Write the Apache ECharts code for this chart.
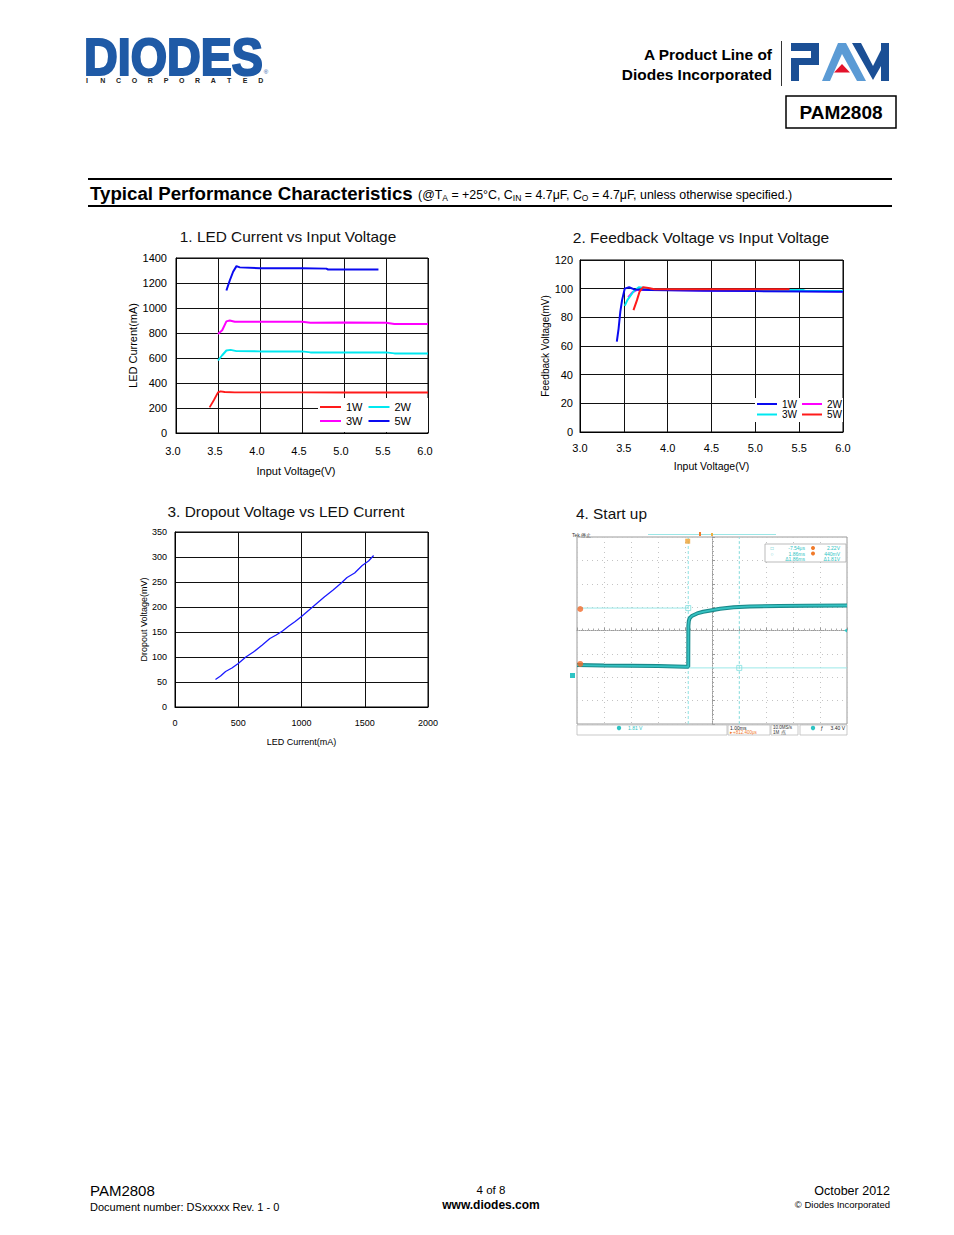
<!DOCTYPE html>
<html><head><meta charset="utf-8">
<script src="https://cdn.jsdelivr.net/npm/echarts@6/dist/echarts.min.js"></script>
<style>html,body{margin:0;padding:0;background:#fff}#page{width:954px;height:1235px}</style>
</head><body><div id="page"></div>
<script>
const FONT = '"Liberation Sans", Arial, sans-serif';
const NARROW = '"Liberation Sans Narrow", "Arial Narrow", "Liberation Sans", sans-serif';

// ---- Chart 1: LED current vs input voltage ----
const c1XLabels = ['3.0','3.5','4.0','4.5','5.0','5.5','6.0'];
const c1YLabels = ['0','200','400','600','800','1000','1200','1400'];
const led1W = [[3.40,205],[3.45,262],[3.50,325],[3.53,333],[3.58,328],[3.7,325],[4.5,325],[5.0,324],[5.5,324],[6.0,324]];
const led2W = [[3.50,580],[3.55,622],[3.60,660],[3.65,665],[3.72,655],[4.0,653],[4.5,653],[4.6,645],[5.0,645],[5.5,645],[5.6,637],[6.0,637]];
const led3W = [[3.50,792],[3.55,822],[3.60,893],[3.64,900],[3.70,890],[4.0,890],[4.5,890],[4.6,882],[5.0,884],[5.5,882],[5.6,872],[6.0,872]];
const led5W = [[3.60,1140],[3.64,1220],[3.68,1290],[3.72,1335],[3.76,1325],[4.0,1318],[4.5,1318],[4.79,1315],[4.81,1308],[5.41,1308]];

// ---- Chart 2: feedback voltage vs input voltage ----
const c2XLabels = ['3.0','3.5','4.0','4.5','5.0','5.5','6.0'];
const c2YLabels = ['0','20','40','60','80','100','120'];
const fb1W = [[3.42,63],[3.44,72],[3.46,84],[3.48,92],[3.51,100],[3.56,101],[3.62,99.5],[3.8,99],[4.4,98.5],[5.0,98.3],[5.6,98],[6.0,97.8]];
const fb2W = [[3.55,94],[3.60,97.5],[3.66,99.5],[3.75,99.3],[4.5,98.8],[5.0,98.6],[5.5,98.3],[6.0,98]];
const fb3W = [[3.51,88],[3.54,92],[3.61,98],[3.67,101],[3.74,100.5],[3.85,99.5],[4.5,99],[5.0,99],[5.55,99],[5.58,98.3],[6.0,98.3]];
const fb5W = [[3.61,85],[3.65,92],[3.68,98],[3.72,101],[3.78,100.5],[3.85,99.6],[4.5,99.6],[5.0,99.6],[5.39,99.6]];

// ---- Chart 3: dropout voltage vs LED current ----
const c3XLabels = ['0','500','1000','1500','2000'];
const c3YLabels = ['0','50','100','150','200','250','300','350'];
const dropI = [320,360,400,450,500,560,620,690,750,800,850,900,950,1000,1060,1120,1180,1250,1310,1360,1420,1480,1530,1570];
const dropV = [55,62,71,78,87,100,110,124,137,144,152,162,171,181,194,207,220,234,247,259,268,283,292,303];

// ---- Chart 4: start-up scope capture (divisions) ----
const scopeT = [-5,-4,-3,-2,-1,-0.88,-0.875,-0.86,-0.83,-0.75,-0.55,-0.33,0,0.3,0.8,1.4,2.5,3.5,5];
const scopeV = [-1.48,-1.5,-1.51,-1.52,-1.55,-1.55,0.2,0.4,0.52,0.62,0.73,0.8,0.87,0.93,0.99,1.03,1.05,1.06,1.07];
const cursorTimes = [-0.88, 1.01];
const cursorLevels = [0.96, -1.6];
const ch1Markers = [[-4.88, 0.92], [-4.88, -1.43]];
const triggerMark = [[-0.9, 3.82]];

const pairs = (a, b) => a.map((v, i) => [v, b[i]]);

function T(x, y, text, font, fill, align, extra) {
  return Object.assign({
    type: 'text', x: x, y: y, z: 10,
    style: { text: text, font: font, fill: fill || '#000',
      textAlign: align || 'left', align: align || 'left',
      textVerticalAlign: 'middle', verticalAlign: 'middle' }
  }, extra || {});
}

const axisBase = (gi) => ({
  gridIndex: gi, type: 'value',
  axisLine: { show: true, lineStyle: { color: '#000', width: 1 } },
  axisTick: { show: false },
  splitLine: { show: true, lineStyle: { color: '#111', width: 1 } },
  nameLocation: 'middle'
});

const labelStyle = (size, fam, margin, pad) => ({
  color: '#000', fontSize: size, fontFamily: fam, margin: margin, padding: pad || 0
});

// ---- graphics: header, footer, logos, scope overlays ----
const graphics = [];
// DIODES logo
graphics.push({ type: 'text', x: 84, y: 57, z: 10, scaleX: 0.915,
  style: { text: 'DIODES', font: '900 51px ' + FONT, fill: '#1f5aa6', stroke: '#1f5aa6', lineWidth: 2.2,
    textAlign: 'left', align: 'left', textVerticalAlign: 'middle', verticalAlign: 'middle' } });
'INCORPORATED'.split('').forEach((ch, i) => {
  graphics.push(T(87 + i * 15.8, 80.5, ch, 'bold 7px ' + FONT, '#222', 'center'));
});
graphics.push(T(266, 72, '®', '6px ' + FONT, '#1f5aa6', 'center'));
// Product line text
graphics.push(T(772, 55, 'A Product Line of', 'bold 15px ' + FONT, '#000', 'right', { scaleX: 1.03 }));
graphics.push(T(772, 75, 'Diodes Incorporated', 'bold 15px ' + FONT, '#000', 'right', { scaleX: 1.03 }));
graphics.push({ type: 'line', z: 10, shape: { x1: 781.5, y1: 41, x2: 781.5, y2: 86 }, style: { stroke: '#333', lineWidth: 1 } });
// PAM logo
const pamDark = '#1b4f95', pamLight = '#5b9bd5', pamRed = '#e3122b';
[[791,43,28,8],[811,43,8,22],[791,58,28,7],[791,58,8,23]].forEach(r => {
  graphics.push({ type: 'rect', z: 10, shape: { x: r[0], y: r[1], width: r[2], height: r[3] }, style: { fill: pamDark } });
});
graphics.push({ type: 'polygon', z: 10, shape: { points: [[822,81],[838,43],[846,43],[866,81],[857,81],[842,54],[830,81]] }, style: { fill: pamLight } });
graphics.push({ type: 'polygon', z: 11, shape: { points: [[842,64],[850,72.5],[834,72.5]] }, style: { fill: pamRed } });
graphics.push({ type: 'polygon', z: 10, shape: { points: [[852,43],[861,43],[873,66],[881,50],[881,43],[889,43],[889,81],[881,81],[881,66],[873,80]] }, style: { fill: pamDark } });
// PAM2808 box
graphics.push({ type: 'rect', z: 10, shape: { x: 786, y: 96, width: 110, height: 32 }, style: { fill: 'none', stroke: '#000', lineWidth: 1.5 } });
graphics.push(T(841, 112.5, 'PAM2808', 'bold 19px ' + FONT, '#000', 'center'));
// Section heading
graphics.push({ type: 'line', z: 10, shape: { x1: 88, y1: 179, x2: 892, y2: 179 }, style: { stroke: '#000', lineWidth: 2 } });
graphics.push({ type: 'line', z: 10, shape: { x1: 88, y1: 206, x2: 892, y2: 206 }, style: { stroke: '#000', lineWidth: 2 } });
graphics.push(T(90, 193, 'Typical Performance Characteristics', 'bold 18.7px ' + FONT, '#000', 'left'));
graphics.push({ type: 'text', x: 418, y: 195, z: 10,
  style: { text: '(@T{s|A} = +25°C, C{s|IN} = 4.7μF, C{s|O} = 4.7μF, unless otherwise specified.)',
    font: '12.4px ' + FONT, fill: '#000', lineHeight: 15, textAlign: 'left', align: 'left',
    textVerticalAlign: 'middle', verticalAlign: 'middle',
    rich: { s: { fontSize: 8.5, fontFamily: FONT, verticalAlign: 'bottom', lineHeight: 9, fill: '#000' } } } });
// Chart titles
graphics.push(T(288, 237.5, '1. LED Current vs Input Voltage', '14px ' + FONT, '#111', 'center', { scaleX: 1.1 }));
graphics.push(T(701, 238.5, '2. Feedback Voltage vs Input Voltage', '14px ' + FONT, '#111', 'center', { scaleX: 1.11 }));
graphics.push(T(286, 512.5, '3. Dropout Voltage vs LED Current', '14px ' + FONT, '#111', 'center', { scaleX: 1.1 }));
graphics.push(T(576, 514.5, '4. Start up', '14px ' + FONT, '#111', 'left', { scaleX: 1.1 }));
// Legend backgrounds
graphics.push({ type: 'rect', z: 3, shape: { x: 318, y: 398, width: 110, height: 34 }, style: { fill: '#fff' } });
graphics.push({ type: 'rect', z: 3, shape: { x: 755, y: 398, width: 88, height: 24 }, style: { fill: '#fff' } });
// Footer
graphics.push(T(90, 1190.5, 'PAM2808', '15px ' + FONT, '#000', 'left'));
graphics.push(T(90, 1206.5, 'Document number: DSxxxxx Rev. 1 - 0', '11px ' + FONT, '#000', 'left'));
graphics.push(T(491, 1189.5, '4 of 8', '11.5px ' + FONT, '#000', 'center'));
graphics.push(T(491, 1204.5, 'www.diodes.com', 'bold 12px ' + FONT, '#000', 'center'));
graphics.push(T(890, 1190.5, 'October 2012', '12.5px ' + FONT, '#000', 'right'));
graphics.push(T(890, 1204.5, '© Diodes Incorporated', '9.5px ' + FONT, '#000', 'right'));
// Scope overlays
const scopeCyan = '#2ec4c4', scopeOrange = '#f07a2a';
graphics.push(T(572, 534.5, 'Tek 停止', '5px ' + FONT, '#333', 'left'));
graphics.push({ type: 'line', z: 10, shape: { x1: 648, y1: 534.5, x2: 776, y2: 534.5 }, style: { stroke: '#9be6e6', lineWidth: 1 } });
graphics.push({ type: 'rect', z: 10, shape: { x: 699, y: 532, width: 2, height: 4 }, style: { fill: scopeOrange } });
graphics.push({ type: 'rect', z: 10, shape: { x: 711, y: 533, width: 2, height: 3 }, style: { fill: '#f0b040' } });
graphics.push({ type: 'rect', z: 10, shape: { x: 765, y: 544, width: 81, height: 18 }, style: { fill: '#fff', stroke: '#aaa', lineWidth: 0.8 } });
graphics.push(T(772, 548, '□', '5px ' + FONT, scopeCyan, 'center'));
graphics.push(T(772, 553.5, '○', '5px ' + FONT, scopeCyan, 'center'));
graphics.push(T(805, 548, '-7.54μs', '5px ' + FONT, scopeCyan, 'right'));
graphics.push(T(805, 553.5, '1.86ms', '5px ' + FONT, scopeCyan, 'right'));
graphics.push(T(805, 559, 'Δ1.86ms', '5px ' + FONT, scopeCyan, 'right'));
graphics.push({ type: 'circle', z: 10, shape: { cx: 813, cy: 548, r: 2 }, style: { fill: scopeOrange } });
graphics.push({ type: 'circle', z: 10, shape: { cx: 813, cy: 553.5, r: 2 }, style: { fill: scopeOrange } });
graphics.push(T(840, 548, '2.22V', '5px ' + FONT, scopeCyan, 'right'));
graphics.push(T(840, 553.5, '440mV', '5px ' + FONT, scopeCyan, 'right'));
graphics.push(T(840, 559, 'Δ1.81V', '5px ' + FONT, scopeCyan, 'right'));
// scope bottom status bar
[[577,725,150,10],[728,725,42,10],[771,725,27,10],[800,725,47,10]].forEach(r => {
  graphics.push({ type: 'rect', z: 10, shape: { x: r[0], y: r[1], width: r[2], height: r[3] }, style: { fill: '#fff', stroke: '#bbb', lineWidth: 0.8 } });
});
graphics.push({ type: 'circle', z: 11, shape: { cx: 619, cy: 728, r: 2.2 }, style: { fill: scopeCyan } });
graphics.push(T(628, 728, '1.81 V', '5px ' + FONT, scopeCyan, 'left'));
graphics.push(T(730, 727.5, '1.00ms', '5px ' + FONT, '#222', 'left'));
graphics.push(T(730, 732, '▸+812.400μs', '4.5px ' + FONT, scopeOrange, 'left'));
graphics.push(T(773, 727.5, '10.0MS/s', '4.5px ' + FONT, '#333', 'left'));
graphics.push(T(773, 732, '1M 点', '4.5px ' + FONT, '#333', 'left'));
graphics.push({ type: 'circle', z: 11, shape: { cx: 813, cy: 728, r: 2.2 }, style: { fill: scopeCyan } });
graphics.push(T(822, 728, 'ƒ', '5px ' + FONT, '#222', 'center'));
graphics.push(T(845, 728, '3.40 V', '5px ' + FONT, '#222', 'right'));
graphics.push({ type: 'rect', z: 11, shape: { x: 570, y: 673, width: 5, height: 5 }, style: { fill: scopeCyan } });
graphics.push({ type: 'polygon', z: 11, shape: { points: [[847,628.5],[844,630.5],[847,632.5]] }, style: { fill: scopeCyan } });

const legendBase = {
  orient: 'horizontal', icon: 'rect', itemWidth: 21, itemHeight: 2, itemGap: 6, padding: 0,
  selectedMode: false, z: 6,
  textStyle: { color: '#000', fontSize: 11, fontFamily: FONT }
};

const option = {
  animation: false,
  backgroundColor: '#fff',
  grid: [
    { left: 176, top: 258, width: 252, height: 175, show: true, borderColor: '#000', borderWidth: 1, containLabel: false },
    { left: 580, top: 260, width: 263, height: 172, show: true, borderColor: '#000', borderWidth: 1, containLabel: false },
    { left: 175, top: 532, width: 253, height: 175, show: true, borderColor: '#000', borderWidth: 1, containLabel: false },
    { left: 577, top: 537, width: 270, height: 187, show: true, borderColor: '#9a9a9a', borderWidth: 1, containLabel: false }
  ],
  xAxis: [
    Object.assign(axisBase(0), { min: 3, max: 6, interval: 0.5,
      axisLabel: Object.assign(labelStyle(11, FONT, 12, [0, 6, 0, 0]), { formatter: v => c1XLabels[Math.round((v - 3) / 0.5)] }),
      name: 'Input Voltage(V)', nameGap: 32,
      nameTextStyle: { color: '#000', fontSize: 11, fontFamily: FONT, padding: [0, 12, 0, 0] } }),
    Object.assign(axisBase(1), { min: 3, max: 6, interval: 0.5,
      axisLabel: Object.assign(labelStyle(11, FONT, 10), { formatter: v => c2XLabels[Math.round((v - 3) / 0.5)] }),
      name: 'Input Voltage(V)', nameGap: 28,
      nameTextStyle: { color: '#000', fontSize: 10.5, fontFamily: FONT } }),
    Object.assign(axisBase(2), { min: 0, max: 2000, interval: 500,
      axisLabel: Object.assign(labelStyle(9, NARROW, 11), { formatter: v => c3XLabels[Math.round(v / 500)] }),
      name: 'LED Current(mA)', nameGap: 30,
      nameTextStyle: { color: '#000', fontSize: 9, fontFamily: NARROW } }),
    { gridIndex: 3, type: 'value', min: -5, max: 5, interval: 1,
      axisLine: { show: true, onZero: true, lineStyle: { color: '#9a9a9a', width: 1, type: 'dotted' } },
      axisTick: { show: true, inside: true, length: 3, lineStyle: { color: '#9a9a9a' } },
      minorTick: { show: true, splitNumber: 5, length: 2, lineStyle: { color: '#aaa' } },
      axisLabel: { show: false },
      splitLine: { show: true, lineStyle: { color: '#c4c4c4', width: 1, type: [1, 4] } } }
  ],
  yAxis: [
    Object.assign(axisBase(0), { min: 0, max: 1400, interval: 200,
      axisLabel: Object.assign(labelStyle(11, FONT, 9), { formatter: v => c1YLabels[Math.round(v / 200)] }),
      name: 'LED Current(mA)', nameGap: 38,
      nameTextStyle: { color: '#000', fontSize: 11, fontFamily: FONT } }),
    Object.assign(axisBase(1), { min: 0, max: 120, interval: 20,
      axisLabel: Object.assign(labelStyle(11, FONT, 7), { formatter: v => c2YLabels[Math.round(v / 20)] }),
      name: 'Feedback Voltage(mV)', nameGap: 28,
      nameTextStyle: { color: '#000', fontSize: 10, fontFamily: FONT } }),
    Object.assign(axisBase(2), { min: 0, max: 350, interval: 50,
      axisLabel: Object.assign(labelStyle(9, NARROW, 8), { formatter: v => c3YLabels[Math.round(v / 50)] }),
      name: 'Dropout Voltage(mV)', nameGap: 27,
      nameTextStyle: { color: '#000', fontSize: 9, fontFamily: NARROW } }),
    { gridIndex: 3, type: 'value', min: -4, max: 4, interval: 1,
      axisLine: { show: true, onZero: true, lineStyle: { color: '#9a9a9a', width: 1, type: 'dotted' } },
      axisTick: { show: true, inside: true, length: 3, lineStyle: { color: '#9a9a9a' } },
      minorTick: { show: true, splitNumber: 5, length: 2, lineStyle: { color: '#aaa' } },
      axisLabel: { show: false },
      splitLine: { show: true, lineStyle: { color: '#c4c4c4', width: 1, type: [1, 4] } } }
  ],
  legend: [
    Object.assign({}, legendBase, { data: ['1W', '2W'], left: 320, top: 401.5 }),
    Object.assign({}, legendBase, { data: ['3W', '5W'], left: 320, top: 415.5 }),
    Object.assign({}, legendBase, { data: ['fb-1W', 'fb-2W'], left: 757, top: 399, itemWidth: 20, itemGap: 5,
      formatter: n => n.replace('fb-', ''), textStyle: { color: '#000', fontSize: 10, fontFamily: FONT } }),
    Object.assign({}, legendBase, { data: ['fb-3W', 'fb-5W'], left: 757, top: 409.5, itemWidth: 20, itemGap: 5,
      formatter: n => n.replace('fb-', ''), textStyle: { color: '#000', fontSize: 10, fontFamily: FONT } })
  ],
  graphic: { elements: graphics },
  series: [
    { name: '1W', type: 'line', xAxisIndex: 0, yAxisIndex: 0, data: led1W, showSymbol: false, color: '#ff1a1a', lineStyle: { color: '#ff1a1a', width: 1.8 } },
    { name: '2W', type: 'line', xAxisIndex: 0, yAxisIndex: 0, data: led2W, showSymbol: false, color: '#00e8f0', lineStyle: { color: '#00e8f0', width: 2 } },
    { name: '3W', type: 'line', xAxisIndex: 0, yAxisIndex: 0, data: led3W, showSymbol: false, color: '#ff00ff', lineStyle: { color: '#ff00ff', width: 2 } },
    { name: '5W', type: 'line', xAxisIndex: 0, yAxisIndex: 0, data: led5W, showSymbol: false, color: '#0a0af0', lineStyle: { color: '#0a0af0', width: 2 } },

    { name: 'fb-2W', type: 'line', xAxisIndex: 1, yAxisIndex: 1, data: fb2W, showSymbol: false, color: '#ff00ff', lineStyle: { color: '#ff00ff', width: 2 } },
    { name: 'fb-3W', type: 'line', xAxisIndex: 1, yAxisIndex: 1, data: fb3W, showSymbol: false, color: '#00e8f0', lineStyle: { color: '#00e8f0', width: 2 } },
    { name: 'fb-1W', type: 'line', xAxisIndex: 1, yAxisIndex: 1, data: fb1W, showSymbol: false, color: '#0a0af0', lineStyle: { color: '#0a0af0', width: 2 } },
    { name: 'fb-5W', type: 'line', xAxisIndex: 1, yAxisIndex: 1, data: fb5W, showSymbol: false, color: '#ff1a1a', lineStyle: { color: '#ff1a1a', width: 2 } },

    { name: 'Dropout', type: 'line', xAxisIndex: 2, yAxisIndex: 2, data: pairs(dropI, dropV), showSymbol: false, color: '#1a1aff', lineStyle: { color: '#1a1aff', width: 1.3 } },

    // scope cursors
    { name: 'curA', type: 'line', xAxisIndex: 3, yAxisIndex: 3, data: [[cursorTimes[0], -4], [cursorTimes[0], 4]], showSymbol: false, lineStyle: { color: '#8fe3e3', width: 1, type: [3, 2] } },
    { name: 'curB', type: 'line', xAxisIndex: 3, yAxisIndex: 3, data: [[cursorTimes[1], -4], [cursorTimes[1], 4]], showSymbol: false, lineStyle: { color: '#8fe3e3', width: 1, type: [3, 2] } },
    { name: 'lvlA', type: 'line', xAxisIndex: 3, yAxisIndex: 3, data: [[-5, cursorLevels[0]], [cursorTimes[0], cursorLevels[0]]], showSymbol: false, lineStyle: { color: '#9be8e8', width: 1 } },
    { name: 'lvlB', type: 'line', xAxisIndex: 3, yAxisIndex: 3, data: [[cursorTimes[0], cursorLevels[1]], [5, cursorLevels[1]]], showSymbol: false, lineStyle: { color: '#9be8e8', width: 1 } },
    // scope trace (band + core)
    { name: 'traceBand', type: 'line', xAxisIndex: 3, yAxisIndex: 3, data: pairs(scopeT, scopeV), showSymbol: false, z: 3, lineStyle: { color: '#1a8a8b', width: 4 } },
    { name: 'traceCore', type: 'line', xAxisIndex: 3, yAxisIndex: 3, data: pairs(scopeT, scopeV), showSymbol: false, z: 3, lineStyle: { color: '#35c2c2', width: 1.8 } },
    // cursor handles and markers
    { name: 'handles', type: 'scatter', xAxisIndex: 3, yAxisIndex: 3, z: 4,
      data: [[cursorTimes[0], cursorLevels[0]], [cursorTimes[1], cursorLevels[1]]],
      symbol: 'rect', symbolSize: 5, itemStyle: { color: 'rgba(255,255,255,0)', borderColor: '#7fdede', borderWidth: 1 } },
    { name: 'ch1', type: 'scatter', xAxisIndex: 3, yAxisIndex: 3, z: 4, clip: false,
      data: ch1Markers, symbol: 'circle', symbolSize: 6, itemStyle: { color: '#f26a2a' } },
    { name: 'trig', type: 'scatter', xAxisIndex: 3, yAxisIndex: 3, z: 4, clip: false,
      data: triggerMark, symbol: 'rect', symbolSize: 5, itemStyle: { color: '#f0a030' } }
  ]
};

const chart = echarts.init(document.getElementById('page'), null, { renderer: 'svg', width: 954, height: 1235 });
chart.setOption(option);
</script>
</body></html>
